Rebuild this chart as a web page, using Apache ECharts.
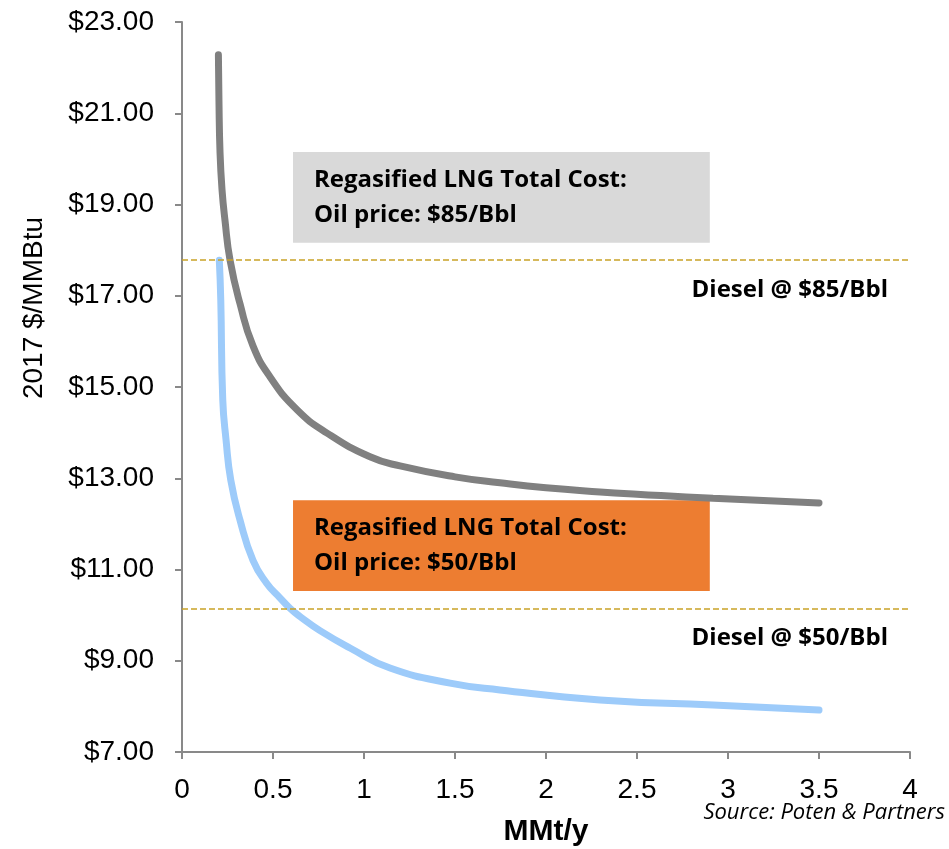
<!DOCTYPE html>
<html lang="en">
<head>
    <meta charset="utf-8">
    <title>Regasified LNG cost vs diesel</title>
    <script type="text/javascript" src="https://cdn.jsdelivr.net/npm/echarts@6/dist/echarts.min.js"></script>
    <style>
        html, body { margin: 0; padding: 0; background: #fff; }
        #chart { width: 949px; height: 849px; }
    </style>
</head>
<body>
<div id="chart"></div>

<script type="text/javascript">
    // oil at $85/Bbl : volume (MMt/y) and cost (2017 $/MMBtu)
    var volumes85 = [0.2, 0.203, 0.209, 0.22, 0.236, 0.264, 0.319, 0.39, 0.484, 0.632, 0.797, 1.033, 1.198, 1.5, 1.747, 2.0, 2.297, 2.5, 2.918, 3.5];
    var cost85 = [22.28, 21.29, 20.13, 19.32, 18.66, 17.78, 16.82, 15.9, 15.22, 14.5, 13.99, 13.47, 13.27, 13.03, 12.9, 12.79, 12.7, 12.65, 12.56, 12.46];
    // oil at $50/Bbl
    var volumes50 = [0.205, 0.213, 0.224, 0.242, 0.268, 0.319, 0.39, 0.465, 0.538, 0.593, 0.648, 0.758, 0.923, 1.143, 1.473, 1.747, 2.297, 2.918, 3.5];
    var cost50 = [17.78, 16.91, 14.72, 13.84, 12.96, 12.08, 11.2, 10.7, 10.38, 10.15, 9.97, 9.66, 9.28, 8.84, 8.51, 8.36, 8.14, 8.03, 7.92];
    var diesel85 = 17.78;
    var diesel50 = 10.15;
    var boxText85 = ['Regasified LNG Total Cost:', 'Oil price: $85/Bbl'];
    var boxText50 = ['Regasified LNG Total Cost:', 'Oil price: $50/Bbl'];

    function pairs(xs, ys) {
        var out = [];
        for (var i = 0; i < xs.length; i++) {
            out.push([xs[i], ys[i]]);
        }
        return out;
    }

    var chart = echarts.init(document.getElementById('chart'), null, {renderer: 'canvas'});
    var axisGray = '#898989';
    var dieselColor = '#C9A227';

    function boxLabel(lines) {
        return {
            show: true,
            position: 'insideLeft',
            distance: 21,
            formatter: lines.join('\n'),
            color: '#000',
            fontFamily: 'Open Sans',
            fontWeight: 'bold',
            fontSize: 24,
            lineHeight: 35
        };
    }

    var option = {
        animation: false,
        backgroundColor: '#fff',
        grid: {left: 182, right: 39, top: 22, bottom: 97, containLabel: false, outerBoundsMode: 'none'},
        xAxis: {
            type: 'value',
            min: 0,
            max: 4,
            interval: 0.5,
            name: 'MMt/y',
            nameLocation: 'middle',
            nameGap: 65,
            nameTextStyle: {color: '#000', fontSize: 30, fontWeight: 'bold', fontFamily: 'Liberation Sans'},
            axisLine: {lineStyle: {color: axisGray, width: 2}},
            axisTick: {inside: false, length: 7, lineStyle: {color: axisGray, width: 2}},
            axisLabel: {color: '#000', fontSize: 28, fontFamily: 'Liberation Sans', margin: 24},
            splitLine: {show: false}
        },
        yAxis: {
            type: 'value',
            min: 7,
            max: 23,
            interval: 2,
            axisLine: {show: true, lineStyle: {color: axisGray, width: 2}},
            axisTick: {show: true, length: 7, lineStyle: {color: axisGray, width: 2}},
            axisLabel: {
                color: '#000', fontSize: 28, fontFamily: 'Liberation Sans', margin: 28,
                formatter: function (v) { return '$' + v.toFixed(2); }
            },
            splitLine: {show: false}
        },
        graphic: [
            {
                type: 'text',
                x: 34,
                y: 308,
                rotation: Math.PI / 2,
                style: {
                    text: '2017 $/MMBtu',
                    fill: '#000',
                    font: '28px "Liberation Sans"',
                    textAlign: 'center',
                    textVerticalAlign: 'middle'
                }
            },
            {
                type: 'text',
                right: 4,
                top: 802,
                style: {
                    text: 'Source: Poten & Partners',
                    fill: '#000',
                    font: 'italic 22px "Open Sans"'
                }
            }
        ],
        series: [
            {
                name: 'Oil $85/Bbl',
                type: 'line',
                data: pairs(volumes85, cost85),
                smooth: 0.5,
                showSymbol: false,
                lineStyle: {color: '#808080', width: 7, cap: 'round'},
                z: 3,
                markLine: {
                    silent: true,
                    symbol: 'none',
                    lineStyle: {color: dieselColor, width: 1.5, type: [6, 3]},
                    label: {
                        position: 'insideEndBottom',
                        distance: [22, 18],
                        color: '#000',
                        fontFamily: 'Open Sans',
                        fontWeight: 'bold',
                        fontSize: 24
                    },
                    data: [
                        {yAxis: diesel85, label: {formatter: 'Diesel @ $85/Bbl'}},
                        {yAxis: diesel50, label: {formatter: 'Diesel @ $50/Bbl'}}
                    ]
                },
                markArea: {
                    silent: true,
                    data: [
                        [
                            {xAxis: 0.61, yAxis: 20.15, itemStyle: {color: '#D9D9D9'}, label: boxLabel(boxText85)},
                            {xAxis: 2.9, yAxis: 18.16}
                        ],
                        [
                            {xAxis: 0.61, yAxis: 12.52, itemStyle: {color: '#ED7D31'}, label: boxLabel(boxText50)},
                            {xAxis: 2.9, yAxis: 10.53}
                        ]
                    ]
                }
            },
            {
                name: 'Oil $50/Bbl',
                type: 'line',
                data: pairs(volumes50, cost50),
                smooth: 0.5,
                showSymbol: false,
                lineStyle: {color: '#9DCBFA', width: 7, cap: 'round'},
                z: 3
            }
        ]
    };
    chart.setOption(option);
</script>
</body>
</html>
